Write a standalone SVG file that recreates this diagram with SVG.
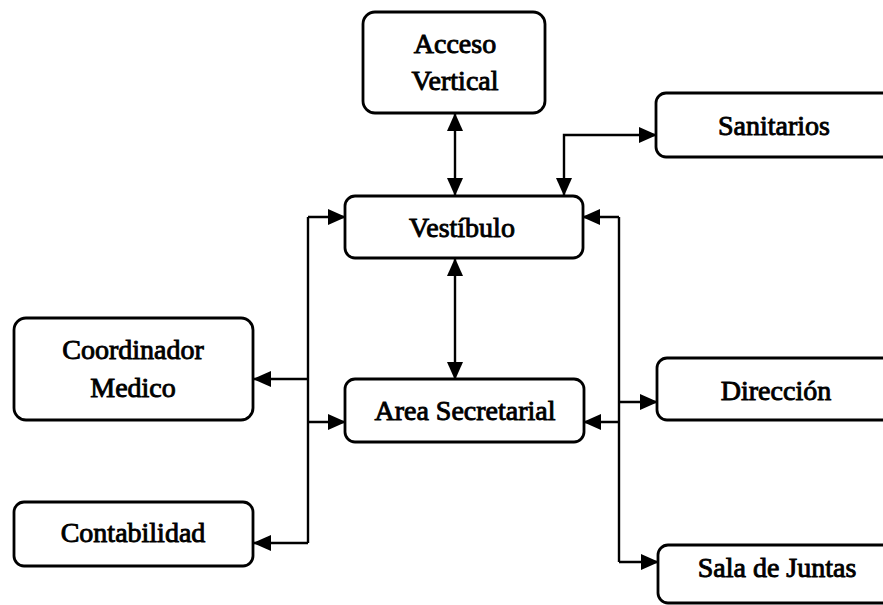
<svg xmlns="http://www.w3.org/2000/svg" width="883" height="605" viewBox="0 0 883 605">
<style>
.box{fill:#ffffff;stroke:#000;stroke-width:2.8}
.lbl{font-family:"Liberation Serif","Times New Roman",serif;font-size:28px;fill:#000;stroke:#000;stroke-width:0.9;text-anchor:middle}
.con{fill:none;stroke:#000;stroke-width:2.4}
</style>
<defs>
<marker id="ah" markerUnits="userSpaceOnUse" markerWidth="18" markerHeight="16" viewBox="0 0 18 16" refX="17" refY="8" orient="auto-start-reverse">
<path d="M0,0 L18,8 L0,16 Z" fill="#000"/>
</marker>
</defs>
<rect width="883" height="605" fill="#fff"/>
<g id="connectors">
<path class="con" d="M455,114 V195" marker-start="url(#ah)" marker-end="url(#ah)"/>
<path class="con" d="M656,135 H564 V195" marker-start="url(#ah)" marker-end="url(#ah)"/>
<path class="con" d="M455,259 V379" marker-start="url(#ah)" marker-end="url(#ah)"/>
<path class="con" d="M308,217 V543"/>
<path class="con" d="M308,217 H345" marker-end="url(#ah)"/>
<path class="con" d="M308,379 H254" marker-end="url(#ah)"/>
<path class="con" d="M308,422 H345" marker-end="url(#ah)"/>
<path class="con" d="M308,543 H254" marker-end="url(#ah)"/>
<path class="con" d="M619,217 V562"/>
<path class="con" d="M619,217 H583" marker-end="url(#ah)"/>
<path class="con" d="M619,402 H657" marker-end="url(#ah)"/>
<path class="con" d="M619,422 H584" marker-end="url(#ah)"/>
<path class="con" d="M619,562 H658" marker-end="url(#ah)"/>
</g>
<g id="acceso">
<rect class="box" x="363" y="12" width="182" height="101" rx="12"/>
<text class="lbl" x="455" y="53">Acceso</text>
<text class="lbl" x="455" y="90">Vertical</text>
</g>
<g id="sanitarios">
<rect class="box" x="656" y="93" width="250" height="64" rx="10"/>
<text class="lbl" x="774" y="135">Sanitarios</text>
</g>
<g id="vestibulo">
<rect class="box" x="345" y="196" width="238" height="62" rx="10"/>
<text class="lbl" x="462" y="237">Vestíbulo</text>
</g>
<g id="coordinador">
<rect class="box" x="14" y="318" width="239" height="102" rx="12"/>
<text class="lbl" x="133" y="359">Coordinador</text>
<text class="lbl" x="133" y="397">Medico</text>
</g>
<g id="area">
<rect class="box" x="345" y="379" width="239" height="63" rx="10"/>
<text class="lbl" x="465" y="420">Area Secretarial</text>
</g>
<g id="direccion">
<rect class="box" x="657" y="358" width="250" height="62" rx="10"/>
<text class="lbl" x="776" y="400">Dirección</text>
</g>
<g id="contabilidad">
<rect class="box" x="14" y="502" width="239" height="64" rx="10"/>
<text class="lbl" x="133" y="542">Contabilidad</text>
</g>
<g id="sala">
<rect class="box" x="658" y="545" width="250" height="58" rx="10"/>
<text class="lbl" x="777" y="577">Sala de Juntas</text>
</g>
</svg>
